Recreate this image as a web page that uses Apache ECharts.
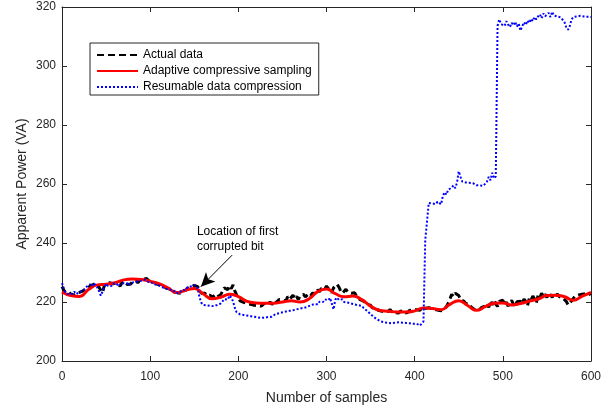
<!DOCTYPE html>
<html>
<head>
<meta charset="utf-8">
<script src="https://cdn.jsdelivr.net/npm/echarts@6/dist/echarts.min.js"></script>
<style>
  html, body { margin: 0; padding: 0; background: #fff; }
  #chart { width: 613px; height: 411px; }
</style>
</head>
<body>
<div id="chart"></div>
<script>
// Measured apparent power, sampled every 2 samples (0 .. 600)
const actualStep = 2;
const actualData = [
  225.2, 224.0, 223.2, 222.8, 223.4, 222.6, 223.0, 222.4, 222.9, 223.1,
  222.8, 223.5, 223.0, 224.2, 223.6, 224.8, 225.5, 225.0, 226.0, 225.4,
  226.2, 225.0, 224.0, 223.2, 225.6, 226.3, 225.8, 226.5, 225.9, 226.2,
  225.6, 226.4, 226.0, 225.4, 226.6, 226.0, 226.8, 225.9, 226.5, 226.1,
  226.9, 226.3, 227.2, 226.5, 227.4, 226.8, 227.6, 227.0, 228.0, 227.3,
  227.6, 226.8, 227.2, 226.4, 226.9, 225.8, 226.3, 225.5, 225.9, 224.8,
  225.3, 224.4, 224.0, 223.6, 224.1, 223.2, 223.7, 223.0, 223.8, 224.3,
  223.9, 224.6, 224.2, 225.1, 224.7, 225.6, 226.0, 225.2, 223.8, 223.0,
  222.6, 223.0, 222.2, 221.8, 222.3, 221.6, 221.9, 222.4, 221.7, 222.2,
  222.5, 223.6, 224.8, 225.3, 224.2, 225.6, 224.5, 225.8, 223.8, 222.4,
  221.2, 220.4, 220.8, 219.9, 220.3, 219.5, 219.8, 219.2, 219.6, 218.9,
  219.4, 218.8, 219.3, 218.6, 219.1, 219.6, 218.9, 219.4, 220.0, 219.2,
  219.7, 220.5, 219.8, 220.9, 221.5, 220.6, 221.2, 220.4, 221.8, 220.9,
  221.5, 222.3, 221.1, 221.9, 220.8, 222.0, 221.4, 222.6, 221.7, 222.2,
  222.8, 222.1, 223.0, 223.6, 222.9, 224.2, 223.5, 224.6, 225.0, 224.3,
  225.4, 224.6, 224.0, 223.2, 224.8, 225.2, 226.0, 225.1, 223.8, 223.0,
  223.6, 224.3, 223.4, 224.0, 223.0, 222.4, 223.1, 222.0, 221.6, 220.8,
  221.2, 220.3, 219.8, 219.2, 218.6, 218.9, 218.0, 217.6, 218.1, 217.3,
  217.6, 216.9, 217.4, 216.6, 217.2, 216.8, 217.5, 216.7, 217.1, 216.4,
  216.9, 216.3, 217.0, 216.5, 216.2, 216.8, 216.4, 217.1, 216.6, 217.3,
  216.8, 217.4, 217.9, 217.2, 218.0, 218.3, 217.8, 218.4, 218.1, 217.9,
  217.6, 218.2, 217.4, 217.8, 217.1, 217.5, 217.0, 217.6, 218.4, 219.6,
  221.0, 222.6, 221.8, 223.0, 223.6, 222.2, 220.8, 221.4, 220.2, 219.4,
  218.9, 219.5, 218.3, 218.0, 217.4, 217.8, 217.0, 217.4, 218.2, 217.6,
  218.6, 219.4, 218.2, 220.4, 219.0, 220.8, 219.3, 218.5, 220.2, 219.6,
  220.6, 219.1, 220.0, 218.6, 219.8, 220.5, 219.3, 218.4, 220.1, 219.5,
  220.3, 219.4, 221.0, 220.2, 218.8, 221.3, 220.6, 222.0, 221.1, 219.8,
  222.2, 221.4, 223.0, 221.8, 222.6, 221.5, 223.2, 222.4, 221.6, 222.8,
  222.0, 222.7, 221.8, 222.3, 221.4, 221.0, 220.2, 219.0, 218.4, 220.4,
  221.2, 222.0, 221.6, 222.4, 221.8, 222.6, 222.1, 222.8, 222.3, 222.6,
  222.9
];

// Reconstruction by adaptive compressive sampling, every 10 samples (0 .. 600)
const adaptiveStep = 10;
const adaptiveData = [
  223.4, 222.2, 221.9, 224.2, 225.8, 226.0, 226.5, 227.5, 227.8, 227.6,
  227.0, 226.2, 224.8, 223.2, 224.0, 224.6, 222.8, 221.1, 221.6, 222.6,
  221.8, 220.2, 219.7, 219.6, 219.6, 220.0, 220.4, 220.0, 221.0, 223.5,
  224.4, 222.8, 221.8, 222.0, 220.8, 218.6, 217.2, 216.9, 216.6, 216.6,
  217.0, 218.0, 217.8, 217.4, 219.2, 220.4, 218.8, 217.2, 218.4, 219.6,
  219.7, 219.0, 219.5, 220.3, 221.0, 222.2, 222.3, 221.8, 220.6, 222.0,
  223.3
];

// Reconstruction by resumable data compression, every 2 samples (0 .. 600)
const resumableStep = 2;
const resumableData = [
  226.4, 224.6, 223.0, 223.4, 222.6, 223.2, 222.8, 223.5, 222.7, 223.0,
  223.4, 222.9, 223.8, 224.5, 225.2, 224.6, 226.0, 225.3, 226.4, 225.7,
  225.0, 223.6, 222.2, 221.8, 224.8, 226.2, 225.5, 226.0, 225.4, 226.3,
  225.7, 226.2, 225.3, 226.0, 225.5, 226.4, 225.8, 226.3, 225.6, 226.5,
  226.0, 226.7, 226.2, 227.0, 226.4, 227.2, 226.6, 227.5, 227.2, 226.8,
  227.1, 226.5, 226.9, 225.9, 226.4, 225.6, 226.0, 225.0, 225.6, 224.5,
  225.0, 224.2, 223.6, 224.0, 223.3, 223.8, 222.9, 223.5, 224.0, 224.6,
  224.1, 224.9, 224.4, 225.3, 225.0, 225.8, 226.3, 224.6, 221.5, 219.8,
  219.0, 218.5, 218.9, 218.3, 218.7, 218.2, 218.6, 218.4, 219.0, 218.7,
  219.5, 220.2, 221.0, 221.6, 220.8, 222.2, 221.5, 220.2, 218.0, 216.6,
  216.2, 215.8, 216.4, 215.6, 216.0, 215.4, 215.8, 215.2, 215.6, 215.0,
  215.3, 214.8, 215.2, 214.6, 215.0, 214.7, 215.3, 214.9, 215.4, 215.0,
  215.5, 215.9, 215.3, 216.2, 215.8, 216.5, 216.0, 216.8, 216.3, 217.0,
  216.6, 217.2, 216.8, 217.5, 217.0, 217.8, 217.3, 218.0, 217.6, 218.3,
  218.5, 218.9, 218.4, 219.3, 219.8, 219.2, 220.1, 220.6, 220.0, 220.9,
  221.2, 220.6, 221.4, 220.9, 217.5, 220.8, 221.5, 220.7, 220.3, 220.9,
  220.0, 220.5, 219.8, 220.2, 219.5, 219.9, 219.2, 219.6, 218.9, 218.4,
  218.7, 218.0, 217.6, 217.0, 216.4, 215.9, 215.3, 214.8, 214.5, 214.0,
  213.8, 213.4, 213.7, 213.1, 213.5, 212.9, 213.3, 212.8, 213.2, 213.0,
  212.7, 213.1, 212.6, 213.0, 212.5, 212.9, 212.4, 212.8, 212.3, 212.6,
  212.2, 212.7, 212.3, 212.0, 212.6, 213.4, 241.0, 241.2, 253.6, 253.9,
  253.4, 253.8, 253.2, 254.0, 253.5, 253.1, 256.0, 257.2, 256.4, 258.0,
  257.6, 258.8, 259.5, 258.6, 260.4, 264.3, 262.4, 260.8, 260.2, 260.5,
  260.0, 260.4, 259.8, 260.3, 260.1, 259.6, 260.2, 259.5, 260.0, 259.4,
  260.0, 260.8, 262.4, 261.3, 263.8, 261.9, 262.6, 313.6, 315.8, 314.2,
  314.8, 313.6, 315.2, 314.0, 313.2, 314.6, 313.8, 315.0, 313.4, 314.4,
  312.0, 313.5, 314.8, 313.9, 315.4, 314.6, 316.0, 315.2, 316.6, 315.8,
  316.8, 317.5, 316.2, 317.8, 316.9, 317.2, 318.0, 316.6, 318.4, 317.1,
  317.6, 316.8, 317.3, 316.4, 316.0, 314.8, 313.0, 312.3, 313.6, 315.8,
  316.6, 316.2, 316.8, 316.4, 317.0, 316.5, 316.8, 316.3, 316.7, 316.5,
  316.6
];

// Axis ticks
const xTicks = [0, 100, 200, 300, 400, 500, 600];
const yTicks = [200, 220, 240, 260, 280, 300, 320];

// Where the first corrupted bit sits, and where its caption starts
const annotationText = ['Location of first', 'corrupted bit'];
const arrowFrom = [193, 235.9];
const arrowTo = [157.5, 225.2];
const captionAt = [153, 243.7];

const pairs = (vals, step) => vals.map((v, i) => [i * step, v]);

const AXIS = '#262626';
const FONT = '"Liberation Sans", Arial, Helvetica, sans-serif';

const chart = echarts.init(document.getElementById('chart'), null, { renderer: 'canvas' });

function axisCommon(show) {
  return {
    axisLine: { show: true, onZero: false, lineStyle: { color: AXIS, width: 1 } },
    axisTick: { show: true, inside: true, length: 5, lineStyle: { color: AXIS, width: 1 } },
    axisLabel: { show: show, color: AXIS, fontSize: 12, fontFamily: FONT },
    splitLine: { show: false }
  };
}

const option = {
  backgroundColor: '#fff',
  animation: false,
  grid: { left: 62, right: 22, top: 7, bottom: 50, containLabel: false },
  xAxis: [
    Object.assign({
      type: 'value', position: 'bottom',
      min: xTicks[0], max: xTicks[xTicks.length - 1], interval: 100,
      name: 'Number of samples', nameLocation: 'middle', nameGap: 30,
      nameTextStyle: { color: AXIS, fontSize: 14, fontFamily: FONT }
    }, axisCommon(true), { axisLabel: { color: AXIS, fontSize: 12, fontFamily: FONT, margin: 10 } }),
    Object.assign({
      type: 'value', position: 'top',
      min: xTicks[0], max: xTicks[xTicks.length - 1], interval: 100
    }, axisCommon(false))
  ],
  yAxis: [
    Object.assign({
      type: 'value', position: 'left',
      min: yTicks[0], max: yTicks[yTicks.length - 1], interval: 20,
      name: 'Apparent Power (VA)', nameLocation: 'middle', nameGap: 33,
      nameMoveOverlap: false,
      nameTextStyle: { color: AXIS, fontSize: 14, fontFamily: FONT }
    }, axisCommon(true), { axisLabel: { color: AXIS, fontSize: 12, fontFamily: FONT, margin: 6 } }),
    Object.assign({
      type: 'value', position: 'right',
      min: yTicks[0], max: yTicks[yTicks.length - 1], interval: 20
    }, axisCommon(false))
  ],
  legend: {
    orient: 'vertical',
    left: 90, top: 43,
    itemWidth: 41, itemHeight: 12, itemGap: 4,
    padding: [6, 7, 2, 6],
    backgroundColor: '#fff',
    borderColor: AXIS, borderWidth: 1, borderRadius: 0,
    itemStyle: { opacity: 0 },
    textStyle: { color: '#000', fontSize: 12, fontFamily: FONT },
    data: ['Actual data', 'Adaptive compressive sampling', 'Resumable data compression']
  },
  series: [
    {
      name: 'Actual data', type: 'line',
      data: pairs(actualData, actualStep),
      showSymbol: false, symbol: 'none',
      lineStyle: { color: '#000', width: 3, type: [7, 4] },
      itemStyle: { color: '#000' },
      z: 2
    },
    {
      name: 'Adaptive compressive sampling', type: 'line',
      data: pairs(adaptiveData, adaptiveStep),
      smooth: 0.5, showSymbol: false, symbol: 'none',
      lineStyle: { color: '#ff0000', width: 3 },
      itemStyle: { color: '#ff0000' },
      z: 3,
      markLine: {
        silent: true, symbol: ['none', 'arrow'], symbolSize: [10, 14],
        label: { show: false },
        lineStyle: { color: '#000', width: 1, type: 'solid' },
        data: [[{ coord: arrowFrom }, { coord: arrowTo }]]
      }
    },
    {
      name: 'Resumable data compression', type: 'line',
      data: pairs(resumableData, resumableStep),
      showSymbol: false, symbol: 'none',
      lineStyle: { color: '#0000ff', width: 2, type: [2, 2] },
      itemStyle: { color: '#0000ff' },
      z: 4
    }
  ]
};

chart.setOption(option);

// Caption for the arrow, placed in data coordinates
const pt = chart.convertToPixel({ xAxisIndex: 0, yAxisIndex: 0 }, captionAt);
chart.setOption({
  graphic: [{
    type: 'text', left: pt[0], top: pt[1] - 8,
    style: {
      text: annotationText.join('\n'),
      fill: '#000', font: '12px ' + FONT, lineHeight: 15
    }
  }]
});
</script>
</body>
</html>
